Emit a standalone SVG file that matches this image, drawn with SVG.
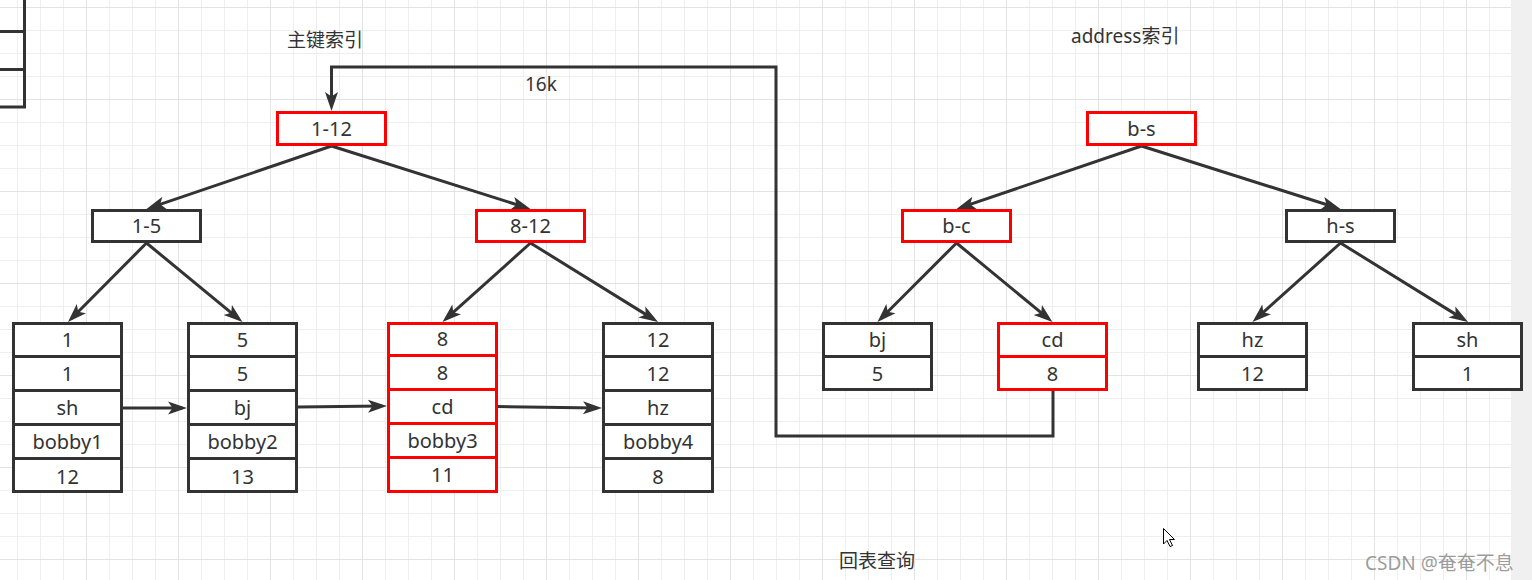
<svg xmlns="http://www.w3.org/2000/svg" width="1532" height="580" viewBox="0 0 1532 580">
<defs>
<pattern id="gridMinor" patternUnits="userSpaceOnUse" x="17" y="7" width="23" height="23">
<rect x="0" y="0" width="1" height="23" fill="#efefef"/>
<rect x="0" y="0" width="23" height="1" fill="#efefef"/>
</pattern>
<pattern id="gridMajor" patternUnits="userSpaceOnUse" x="86" y="99" width="92" height="92">
<rect x="0" y="0" width="1" height="92" fill="#e3e3e3"/>
<rect x="0" y="0" width="92" height="1" fill="#e3e3e3"/>
</pattern>
<marker id="arrow" markerUnits="userSpaceOnUse" viewBox="0 0 20 14" markerWidth="20" markerHeight="14" refX="14" refY="7" orient="auto" overflow="visible">
<path d="M0,0.5 L19,7 L0,13.5 L4.5,7 Z" fill="#333333"/>
</marker>
</defs>
<style>
.box{fill:#ffffff;stroke:#333333;stroke-width:3}
.red{fill:#ffffff;stroke:#ff0000;stroke-width:3}
.div{stroke:#333333;stroke-width:3}
.divr{stroke:#ff0000;stroke-width:3}
.t{font-family:"Noto Sans","Liberation Sans",sans-serif;font-size:20px;fill:#333333;text-anchor:middle}
.lbl{font-family:"Noto Sans","Noto Sans CJK SC",sans-serif;font-size:19px;fill:#333333}
.edge{fill:none;stroke:#333333;stroke-width:3;marker-end:url(#arrow)}
.plain{fill:none;stroke:#333333;stroke-width:3}
</style>
<rect x="0" y="0" width="1532" height="580" fill="#ffffff"/>
<rect x="0" y="0" width="1532" height="580" fill="url(#gridMinor)"/>
<rect x="0" y="0" width="1532" height="580" fill="url(#gridMajor)"/>
<rect x="1511" y="0" width="21" height="580" fill="#f0f0f0"/>

<g id="partial-table">
<path class="plain" d="M24.5,0 V107 M0,31.5 H24.5 M0,69.5 H24.5 M0,107 H26"/>
</g>

<g id="labels">
<text class="lbl" x="287" y="47">主键索引</text>
<text class="lbl" x="1071" y="43">address索引</text>
<text class="lbl" x="525" y="91">16k</text>
<text class="lbl" x="839" y="568">回表查询</text>
</g>

<g id="connectors">
<path class="edge" d="M331.5,146 L151.2,207.4"/>
<path class="edge" d="M331.5,146 L525.7,207.5"/>
<path class="edge" d="M146.5,243 L71.5,318.5"/>
<path class="edge" d="M146.5,243 L238.6,318.8"/>
<path class="edge" d="M530.5,243 L446.2,318.7"/>
<path class="edge" d="M530.5,243 L653.8,319.4"/>
<path class="edge" d="M1141.5,146 L961.2,207.4"/>
<path class="edge" d="M1141.5,146 L1335.7,207.5"/>
<path class="edge" d="M956.5,243 L881,318.5"/>
<path class="edge" d="M956.5,243 L1048.6,318.8"/>
<path class="edge" d="M1340.5,243 L1256.2,318.7"/>
<path class="edge" d="M1340.5,243 L1463.8,319.4"/>
<path class="edge" d="M123,408 L182,408"/>
<path class="edge" d="M298,407 L382,406"/>
<path class="edge" d="M498,406.5 L597,408"/>
<path class="edge" d="M1053,391 V436 H776 V67 H331.5 V106"/>
</g>

<g id="node-1-12">
<rect class="red" x="277.5" y="112.5" width="108" height="32"/>
<text class="t" x="331.5" y="135.5">1-12</text>
</g>
<g id="node-1-5">
<rect class="box" x="92.5" y="210.5" width="108" height="31"/>
<text class="t" x="146.5" y="233">1-5</text>
</g>
<g id="node-8-12">
<rect class="red" x="476.5" y="210.5" width="108" height="31"/>
<text class="t" x="530.5" y="233">8-12</text>
</g>
<g id="node-b-s">
<rect class="red" x="1087.5" y="112.5" width="108" height="32"/>
<text class="t" x="1141.5" y="135.5">b-s</text>
</g>
<g id="node-b-c">
<rect class="red" x="902.5" y="210.5" width="108" height="31"/>
<text class="t" x="956.5" y="233">b-c</text>
</g>
<g id="node-h-s">
<rect class="box" x="1286.5" y="210.5" width="108" height="31"/>
<text class="t" x="1340.5" y="233">h-s</text>
</g>

<g id="leaf-1">
<rect class="box" x="13.5" y="323.5" width="108" height="168"/>
<path class="div" d="M13.5,356.5 H121.5 M13.5,390.5 H121.5 M13.5,424.5 H121.5 M13.5,458.5 H121.5"/>
<text class="t" x="67.5" y="346.5">1</text>
<text class="t" x="67.5" y="381">1</text>
<text class="t" x="67.5" y="415">sh</text>
<text class="t" x="67.5" y="449">bobby1</text>
<text class="t" x="67.5" y="483.5">12</text>
</g>
<g id="leaf-5">
<rect class="box" x="188.5" y="323.5" width="108" height="168"/>
<path class="div" d="M188.5,356.5 H296.5 M188.5,390.5 H296.5 M188.5,424.5 H296.5 M188.5,458.5 H296.5"/>
<text class="t" x="242.5" y="346.5">5</text>
<text class="t" x="242.5" y="381">5</text>
<text class="t" x="242.5" y="415">bj</text>
<text class="t" x="242.5" y="449">bobby2</text>
<text class="t" x="242.5" y="483.5">13</text>
</g>
<g id="leaf-8">
<rect class="red" x="388.5" y="323.5" width="108" height="168"/>
<path class="divr" d="M388.5,355.5 H496.5 M388.5,389.5 H496.5 M388.5,423.5 H496.5 M388.5,457.5 H496.5"/>
<text class="t" x="442.5" y="345.5">8</text>
<text class="t" x="442.5" y="379.5">8</text>
<text class="t" x="442.5" y="413.5">cd</text>
<text class="t" x="442.5" y="448">bobby3</text>
<text class="t" x="442.5" y="482">11</text>
</g>
<g id="leaf-12">
<rect class="box" x="603.5" y="323.5" width="109" height="168"/>
<path class="div" d="M603.5,356.5 H712.5 M603.5,390.5 H712.5 M603.5,424.5 H712.5 M603.5,458.5 H712.5"/>
<text class="t" x="658" y="346.5">12</text>
<text class="t" x="658" y="381">12</text>
<text class="t" x="658" y="415">hz</text>
<text class="t" x="658" y="449">bobby4</text>
<text class="t" x="658" y="483.5">8</text>
</g>

<g id="addr-bj">
<rect class="box" x="823.5" y="323.5" width="108" height="66"/>
<path class="div" d="M823.5,356.5 H931.5"/>
<text class="t" x="877.5" y="346.5">bj</text>
<text class="t" x="877.5" y="381">5</text>
</g>
<g id="addr-cd">
<rect class="red" x="998.5" y="323.5" width="108" height="66"/>
<path class="divr" d="M998.5,356.5 H1106.5"/>
<text class="t" x="1052.5" y="346.5">cd</text>
<text class="t" x="1052.5" y="381">8</text>
</g>
<g id="addr-hz">
<rect class="box" x="1198.5" y="323.5" width="108" height="66"/>
<path class="div" d="M1198.5,356.5 H1306.5"/>
<text class="t" x="1252.5" y="346.5">hz</text>
<text class="t" x="1252.5" y="381">12</text>
</g>
<g id="addr-sh">
<rect class="box" x="1413.5" y="323.5" width="108" height="66"/>
<path class="div" d="M1413.5,356.5 H1521.5"/>
<text class="t" x="1467.5" y="346.5">sh</text>
<text class="t" x="1467.5" y="381">1</text>
</g>

<g id="cursor">
<path d="M1163.5,528.5 V544 L1167,540.5 L1170,546.5 L1172.5,545.5 L1169.5,539.5 L1174.5,539.5 Z" fill="#ffffff" stroke="#000000" stroke-width="1" stroke-linejoin="round"/>
</g>
<g id="watermark">
<text x="1365" y="570" font-family="Noto Sans, Noto Sans CJK SC, sans-serif" font-size="19" fill="#8a8a8a" fill-opacity="0.85">CSDN @奄奄不息</text>
</g>
</svg>
